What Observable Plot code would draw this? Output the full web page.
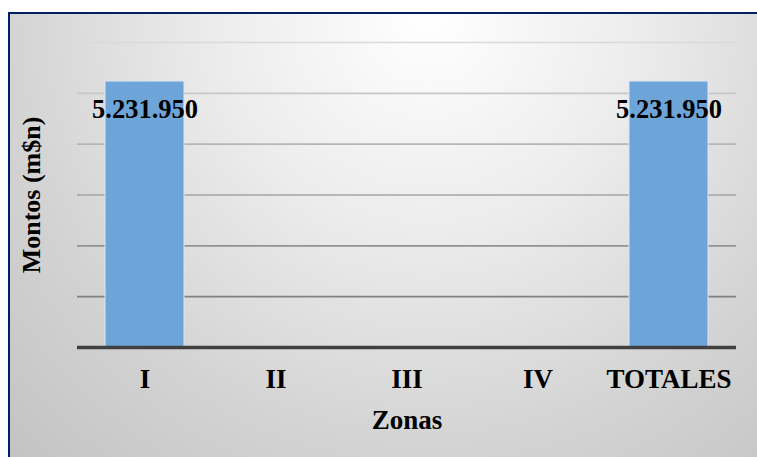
<!DOCTYPE html>
<html>
<head>
<meta charset="utf-8">
<script src="https://cdn.jsdelivr.net/npm/d3@7"></script>
<script src="https://cdn.jsdelivr.net/npm/@observablehq/plot@0.6"></script>
<style>
  html, body { margin: 0; padding: 0; width: 757px; height: 457px; overflow: hidden; background: #ffffff; }
  #frame {
    position: absolute; left: 8px; top: 12px; width: 760px; height: 460px;
    border-left: 2px solid #002060; border-top: 2px solid #002060;
    background: radial-gradient(ellipse 62% 105% at 55% 0%, #ffffff 0%, #ececec 45%, #d3d3d3 90%, #c2c2c2 130%);
  }
  #chart { position: absolute; left: 0; top: 0; }
  #chart svg { background: transparent !important; overflow: visible; }
</style>
</head>
<body>
<div id="frame"></div>
<div id="chart"></div>
<script>
const zonas = ["I", "II", "III", "IV", "TOTALES"];
const montos = [5231950, null, null, null, 5231950];
const etiquetas = ["5.231.950", "", "", "", "5.231.950"];
const yLabel = "Montos (m$n)";
const xLabel = "Zonas";

const data = zonas.map((z, i) => ({zona: z, monto: montos[i], etiqueta: etiquetas[i]}));
const font = "'Liberation Serif', 'Times New Roman', serif";

const chart = Plot.plot({
  width: 757,
  height: 457,
  marginLeft: 77,
  marginRight: 21,
  marginTop: 42,
  marginBottom: 110,
  style: {fontFamily: font, fontSize: "26px", fontWeight: "bold", color: "#000", background: "transparent", overflow: "visible"},
  x: {domain: zonas, paddingInner: 0.4, paddingOuter: 0.2},
  y: {domain: [0, 6000000]},
  marks: [
    Plot.gridY({ticks: 6, stroke: "url(#gridGrad)", strokeOpacity: 1, strokeWidth: 1.6}),
    Plot.barY(data.filter(d => d.monto != null), {x: "zona", y: "monto", fill: "#6ea5d8", stroke: "#dbe6f1", strokeWidth: 1}),
    Plot.ruleY([0], {stroke: "#404040", strokeWidth: 3.5}),
    Plot.text(data.filter(d => d.monto != null), {x: "zona", y: "monto", text: "etiqueta", dy: 28, lineAnchor: "middle", fontSize: 26.5, fontWeight: "bold", fill: "#000"}),
    Plot.axisX({tickSize: 0, tickPadding: 21, fontSize: 27, fontWeight: "bold", fill: "#000", label: xLabel, labelAnchor: "center", labelOffset: 81, labelArrow: "none"}),
    Plot.axisY({ticks: [], tickSize: 0, label: yLabel, labelAnchor: "center", labelOffset: 56, labelArrow: "none", fill: "#000", fontSize: 26})
  ]
});

const svg = d3.select(chart);
const defs = svg.insert("defs", ":first-child");
const g = defs.append("linearGradient").attr("id", "gridGrad")
  .attr("gradientUnits", "userSpaceOnUse").attr("x1", 0).attr("y1", 40).attr("x2", 0).attr("y2", 300);
g.append("stop").attr("offset", "0%").attr("stop-color", "#dadada");
g.append("stop").attr("offset", "100%").attr("stop-color", "#7f7f7f");

document.getElementById("chart").append(chart);
</script>
</body>
</html>
